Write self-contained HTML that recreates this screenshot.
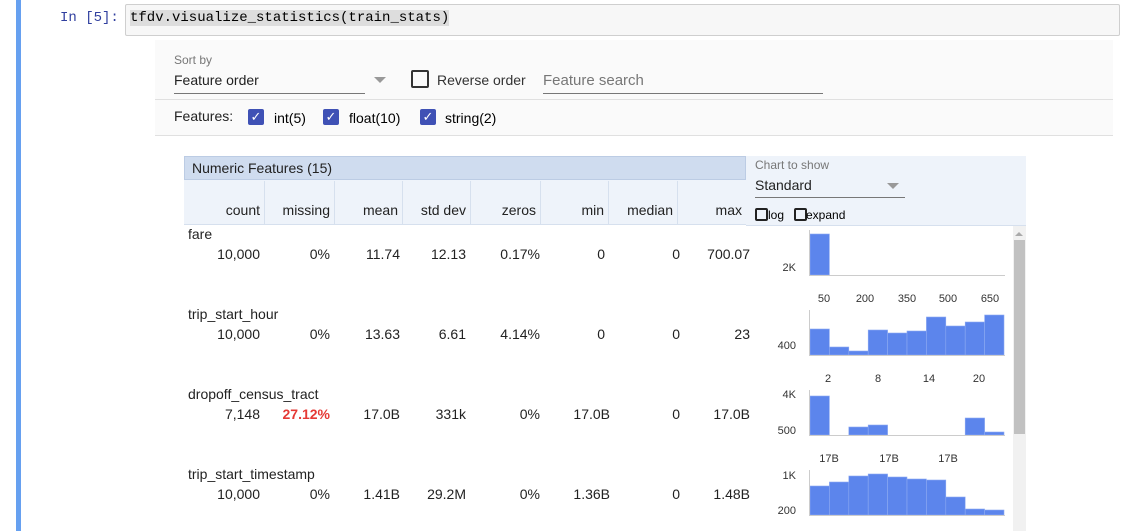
<!DOCTYPE html>
<html><head><style>
body{margin:0;width:1124px;height:531px;overflow:hidden;background:#fff;font-family:"Liberation Sans",sans-serif;position:relative}
.a{position:absolute;white-space:nowrap}
.r{text-align:right}
.cb{position:absolute;width:16px;height:16px;background:#3f51b5;border-radius:2px;color:#fff;font-size:13px;line-height:16px;text-align:center}
.num{font-size:14px;color:#222}
</style></head><body>
<div class="a" style="left:16px;top:0;width:5px;height:531px;background:#66a0f0"></div>
<div class="a" style="left:60px;top:10px;font-family:'Liberation Mono',monospace;font-size:14px;color:#303f9f">In [5]:</div>
<div class="a" style="left:125px;top:4px;width:993px;height:30px;background:#f7f7f7;border:1px solid #cfcfcf;border-radius:2px"></div>
<div class="a" style="left:130px;top:10px;font-family:'Liberation Mono',monospace;font-size:14px;background:#ddd;color:#000">tfdv.visualize_statistics(train_stats)</div>

<div class="a" style="left:155px;top:40px;width:958px;height:95px;background:#fafafa"></div>
<div class="a" style="left:155px;top:99px;width:958px;height:1px;background:#e0e0e0"></div>
<div class="a" style="left:155px;top:135px;width:958px;height:1px;background:#e0e0e0"></div>
<div class="a" style="left:174px;top:53px;font-size:12px;color:#777">Sort by</div>
<div class="a" style="left:174px;top:72px;font-size:14px;color:#222">Feature order</div>
<div class="a" style="left:374px;top:77px;width:0;height:0;border-left:6px solid transparent;border-right:6px solid transparent;border-top:6px solid #999"></div>
<div class="a" style="left:174px;top:93px;width:191px;height:1px;background:#777"></div>
<div class="a" style="left:411px;top:70px;width:14px;height:14px;border:2px solid #333;border-radius:2px"></div>
<div class="a" style="left:437px;top:72px;font-size:14px;color:#333">Reverse order</div>
<div class="a" style="left:543px;top:72px;font-size:15px;color:#777">Feature search</div>
<div class="a" style="left:543px;top:93px;width:280px;height:1px;background:#777"></div>
<div class="a" style="left:174px;top:108px;font-size:14px;color:#222">Features:</div>
<div class="cb" style="left:248px;top:109px">✓</div><div class="a" style="left:274px;top:110px;font-size:14px">int(5)</div>
<div class="cb" style="left:323px;top:109px">✓</div><div class="a" style="left:349px;top:110px;font-size:14px">float(10)</div>
<div class="cb" style="left:420px;top:109px">✓</div><div class="a" style="left:445px;top:110px;font-size:14px">string(2)</div>

<div class="a" style="left:184px;top:156px;width:562px;height:69px;background:#eef3fa"></div>
<div class="a" style="left:184px;top:156px;width:562px;height:24px;background:#cfdcef;border:1px solid #bccce4;box-sizing:border-box"></div>
<div class="a" style="left:192px;top:160px;font-size:14px;color:#222">Numeric Features (15)</div>
<div class="a" style="left:184px;top:224px;width:562px;height:1px;background:#d6e0ee"></div>
<div class="a" style="left:264px;top:181px;width:1px;height:44px;background:#d6e0ee"></div>
<div class="a" style="left:334px;top:181px;width:1px;height:44px;background:#d6e0ee"></div>
<div class="a" style="left:402px;top:181px;width:1px;height:44px;background:#d6e0ee"></div>
<div class="a" style="left:470px;top:181px;width:1px;height:44px;background:#d6e0ee"></div>
<div class="a" style="left:540px;top:181px;width:1px;height:44px;background:#d6e0ee"></div>
<div class="a" style="left:608px;top:181px;width:1px;height:44px;background:#d6e0ee"></div>
<div class="a" style="left:677px;top:181px;width:1px;height:44px;background:#d6e0ee"></div>
<div class="a num r" style="right:864px;top:202px">count</div>
<div class="a num r" style="right:794px;top:202px">missing</div>
<div class="a num r" style="right:726px;top:202px">mean</div>
<div class="a num r" style="right:658px;top:202px">std dev</div>
<div class="a num r" style="right:588px;top:202px">zeros</div>
<div class="a num r" style="right:520px;top:202px">min</div>
<div class="a num r" style="right:451px;top:202px">median</div>
<div class="a num r" style="right:382px;top:202px">max</div>

<div class="a" style="left:746px;top:156px;width:280px;height:69px;background:#eef3fa;border-bottom:1px solid #d6e0ee"></div>
<div class="a" style="left:755px;top:158px;font-size:12px;color:#777">Chart to show</div>
<div class="a" style="left:755px;top:177px;font-size:14px;color:#222">Standard</div>
<div class="a" style="left:887px;top:183px;border-left:6px solid transparent;border-right:6px solid transparent;border-top:6px solid #999"></div>
<div class="a" style="left:755px;top:197px;width:150px;height:1px;background:#777"></div>
<div class="a" style="left:755px;top:208px;width:9px;height:9px;border:2px solid #222;border-radius:2px"></div>
<div class="a" style="left:768px;top:208px;font-size:12px">log</div>
<div class="a" style="left:794px;top:208px;width:9px;height:9px;border:2px solid #222;border-radius:2px"></div>
<div class="a" style="left:806px;top:208px;font-size:12px">expand</div>

<div class="a" style="left:1013px;top:226px;width:13px;height:305px;background:#f1f1f1"></div>
<div class="a" style="left:1015px;top:232px;border-left:4px solid transparent;border-right:4px solid transparent;border-bottom:4px solid #aaa"></div>
<div class="a" style="left:1014px;top:240px;width:11px;height:194px;background:#c1c1c1"></div>

<!-- rows -->
<div class="a num" style="left:188px;top:226px">fare</div>
<div class="a num" style="left:188px;top:306px">trip_start_hour</div>
<div class="a num" style="left:188px;top:386px">dropoff_census_tract</div>
<div class="a num" style="left:188px;top:466px">trip_start_timestamp</div>

<div class="a num r" style="right:864px;top:246px">10,000</div><div class="a num r" style="right:794px;top:246px">0%</div><div class="a num r" style="right:724px;top:246px">11.74</div><div class="a num r" style="right:658px;top:246px">12.13</div><div class="a num r" style="right:584px;top:246px">0.17%</div><div class="a num r" style="right:519px;top:246px">0</div><div class="a num r" style="right:444px;top:246px">0</div><div class="a num r" style="right:374px;top:246px">700.07</div>
<div class="a num r" style="right:864px;top:326px">10,000</div><div class="a num r" style="right:794px;top:326px">0%</div><div class="a num r" style="right:724px;top:326px">13.63</div><div class="a num r" style="right:658px;top:326px">6.61</div><div class="a num r" style="right:584px;top:326px">4.14%</div><div class="a num r" style="right:519px;top:326px">0</div><div class="a num r" style="right:444px;top:326px">0</div><div class="a num r" style="right:374px;top:326px">23</div>
<div class="a num r" style="right:864px;top:406px">7,148</div><div class="a num r" style="right:794px;top:406px;color:#e53935;font-weight:bold">27.12%</div><div class="a num r" style="right:724px;top:406px">17.0B</div><div class="a num r" style="right:658px;top:406px">331k</div><div class="a num r" style="right:584px;top:406px">0%</div><div class="a num r" style="right:514px;top:406px">17.0B</div><div class="a num r" style="right:444px;top:406px">0</div><div class="a num r" style="right:374px;top:406px">17.0B</div>
<div class="a num r" style="right:864px;top:486px">10,000</div><div class="a num r" style="right:794px;top:486px">0%</div><div class="a num r" style="right:724px;top:486px">1.41B</div><div class="a num r" style="right:658px;top:486px">29.2M</div><div class="a num r" style="right:584px;top:486px">0%</div><div class="a num r" style="right:514px;top:486px">1.36B</div><div class="a num r" style="right:444px;top:486px">0</div><div class="a num r" style="right:374px;top:486px">1.48B</div>

<svg class="a" style="left:0;top:0" width="1124" height="531" font-family="Liberation Sans, sans-serif" font-size="11" fill="#333">
<g fill="#5c85ec" stroke="#8eaaf2" stroke-width="0.6">
<rect x="810" y="234" width="19.4" height="41"/>
<rect x="810" y="329" width="19.4" height="26"/><rect x="829.4" y="347" width="19.4" height="8"/><rect x="848.8" y="351" width="19.4" height="4"/><rect x="868.2" y="330" width="19.4" height="25"/><rect x="887.6" y="333" width="19.4" height="22"/><rect x="907" y="331" width="19.4" height="24"/><rect x="926.4" y="317" width="19.4" height="38"/><rect x="945.8" y="326" width="19.4" height="29"/><rect x="965.2" y="322" width="19.4" height="33"/><rect x="984.6" y="315" width="19.4" height="40"/>
<rect x="810" y="396" width="19.4" height="39"/><rect x="848.8" y="427" width="19.4" height="8"/><rect x="868.2" y="425" width="19.4" height="10"/><rect x="965.2" y="418" width="19.4" height="17"/><rect x="984.6" y="432" width="19.4" height="3"/>
<rect x="810" y="486" width="19.4" height="29"/><rect x="829.4" y="482" width="19.4" height="33"/><rect x="848.8" y="476" width="19.4" height="39"/><rect x="868.2" y="474" width="19.4" height="41"/><rect x="887.6" y="477" width="19.4" height="38"/><rect x="907" y="479" width="19.4" height="36"/><rect x="926.4" y="480" width="19.4" height="35"/><rect x="945.8" y="497" width="19.4" height="18"/><rect x="965.2" y="509" width="19.4" height="6"/><rect x="984.6" y="510" width="19.4" height="5"/>
</g>
<g stroke="#ccc" stroke-width="1">
<line x1="809" y1="275.5" x2="1005" y2="275.5"/><line x1="809" y1="355.5" x2="1005" y2="355.5"/><line x1="809" y1="435.5" x2="1005" y2="435.5"/><line x1="809" y1="515.5" x2="1005" y2="515.5"/>
<line x1="809.5" y1="230" x2="809.5" y2="276"/><line x1="809.5" y1="310" x2="809.5" y2="356"/><line x1="809.5" y1="390" x2="809.5" y2="436"/><line x1="809.5" y1="470" x2="809.5" y2="516"/>
</g>
<text x="796" y="271" text-anchor="end">2K</text>
<text x="796" y="349" text-anchor="end">400</text>
<text x="796" y="398" text-anchor="end">4K</text><text x="796" y="434" text-anchor="end">500</text>
<text x="796" y="479" text-anchor="end">1K</text><text x="796" y="514" text-anchor="end">200</text>
<g text-anchor="middle">
<text x="824" y="302">50</text><text x="865" y="302">200</text><text x="907" y="302">350</text><text x="948" y="302">500</text><text x="990" y="302">650</text>
<text x="828" y="382">2</text><text x="878" y="382">8</text><text x="929" y="382">14</text><text x="979" y="382">20</text>
<text x="829" y="462">17B</text><text x="889" y="462">17B</text><text x="948" y="462">17B</text>
</g>
</svg>
</body></html>
